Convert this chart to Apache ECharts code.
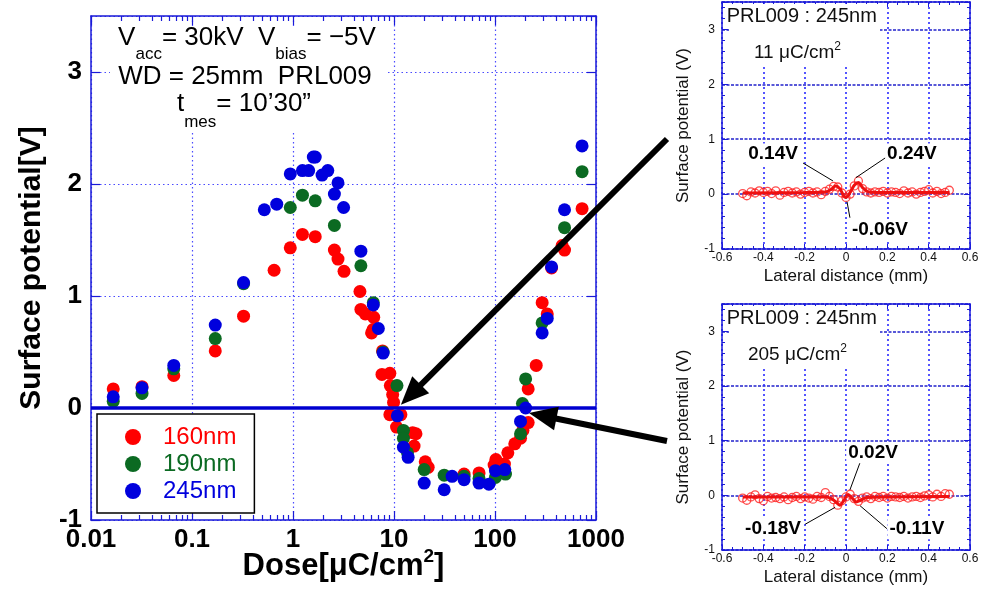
<!DOCTYPE html>
<html><head><meta charset="utf-8">
<script src="https://cdn.jsdelivr.net/npm/echarts@6/dist/echarts.min.js"></script>
<style>html,body{margin:0;padding:0;background:#fff}#c{width:982px;height:590px}</style>
</head><body><div id="c"></div>
<script>
// ---------- main chart data (Dose [uC/cm2], Surface potential [V]) ----------
const dose160 = [0.0166,0.032,0.066,0.17,0.324,0.65,0.94,1.24,1.66,2.57,2.79,3.2,4.6,4.7,5.2,6.3,6.0,6.2,7.7,7.6,9.1,9.2,9.7,9.9,9.1,11.7,10.6,15.3,16.5,15.8,20.4,21.8,49.4,69.5,98,102,124,134,157,179,189,213,213,256,293,329,363,462,488,728];
const pot160  = [0.17,0.19,0.29,0.51,0.82,1.23,1.43,1.55,1.53,1.41,1.33,1.22,1.04,0.88,0.84,0.81,0.67,0.70,0.51,0.30,0.31,0.20,0.12,0.05,-0.06,-0.06,-0.17,-0.22,-0.23,-0.34,-0.48,-0.53,-0.59,-0.58,-0.51,-0.46,-0.50,-0.40,-0.32,-0.27,-0.20,-0.13,0.17,0.38,0.94,0.84,1.25,1.45,1.41,1.78];
const dose190 = [0.0166,0.032,0.066,0.17,0.324,0.94,1.24,1.66,2.57,4.7,6.24,7.8,10.7,12.4,12.4,13.6,19.9,31.4,49.4,69.5,101,127,179,187,201,293,488,728];
const pot190  = [0.06,0.13,0.35,0.62,1.11,1.79,1.90,1.85,1.63,1.27,0.94,0.50,0.20,-0.20,-0.27,-0.40,-0.55,-0.60,-0.61,-0.63,-0.62,-0.59,-0.23,0.04,0.26,0.76,1.61,2.11];
const dose245 = [0.0166,0.032,0.066,0.17,0.324,0.52,0.69,0.94,1.24,1.43,1.59,1.66,1.94,2.21,2.57,2.79,3.17,4.7,6.24,7.0,7.8,10.8,12.4,13.8,19.9,31.4,37.6,49.4,69.5,87,101,125,179,201,293,329,363,488,728];
const pot245  = [0.10,0.18,0.38,0.74,1.12,1.77,1.82,2.09,2.12,2.12,2.24,2.24,2.08,2.12,1.91,2.01,1.79,1.40,0.92,0.71,0.49,-0.07,-0.35,-0.44,-0.67,-0.73,-0.61,-0.64,-0.67,-0.68,-0.56,-0.55,-0.12,0.00,0.67,0.80,1.26,1.77,2.34];
const seriesNames = ['160nm','190nm','245nm'];

// ---------- inset data (Lateral distance [mm], Surface potential [V]) ----------
const lateral = [-0.50,-0.48,-0.46,-0.44,-0.42,-0.40,-0.38,-0.36,-0.34,-0.32,-0.30,-0.28,-0.26,-0.24,-0.22,-0.20,-0.18,-0.16,-0.14,-0.12,-0.10,-0.08,-0.06,-0.04,-0.02,0.00,0.02,0.04,0.06,0.08,0.10,0.12,0.14,0.16,0.18,0.20,0.22,0.24,0.26,0.28,0.30,0.32,0.34,0.36,0.38,0.40,0.42,0.44,0.46,0.48,0.50];
const pot11  = [0.01,-0.03,0.04,0.02,0.06,0.03,0.05,0.01,0.06,-0.02,0.03,0.05,0.02,0.04,0.00,0.03,0.05,0.02,0.04,-0.01,0.05,0.09,0.14,0.13,0.02,-0.06,0.00,0.15,0.24,0.10,0.04,0.02,0.04,0.03,0.05,0.02,0.04,0.03,0.01,0.06,0.02,0.04,0.00,0.03,0.05,0.08,0.02,0.05,0.01,0.03,0.07];
const pot205 = [-0.05,-0.09,-0.03,0.01,-0.06,-0.10,-0.02,-0.05,-0.04,-0.06,-0.03,-0.08,-0.04,-0.02,-0.06,-0.03,-0.05,-0.07,-0.02,-0.04,0.05,-0.02,-0.08,-0.18,-0.10,-0.03,0.02,-0.06,-0.11,-0.05,-0.03,-0.06,-0.02,-0.04,-0.02,-0.05,-0.02,-0.03,-0.04,-0.02,-0.05,-0.03,-0.02,-0.04,-0.01,0.01,-0.03,0.02,-0.02,0.03,0.02];
const fitX11  = [-0.50,-0.20,-0.10,-0.07,-0.05,-0.03,-0.01,0.00,0.02,0.04,0.06,0.08,0.11,0.20,0.50];
const fitY11  = [0.02,0.03,0.04,0.09,0.15,0.10,-0.04,-0.06,0.03,0.16,0.21,0.12,0.04,0.03,0.03];
const fitX205 = [-0.50,-0.20,-0.10,-0.07,-0.05,-0.03,-0.01,0.01,0.03,0.05,0.07,0.10,0.20,0.50];
const fitY205 = [-0.03,-0.03,-0.03,-0.06,-0.12,-0.18,-0.09,0.01,-0.05,-0.12,-0.09,-0.04,-0.03,-0.02];

const mainLines = ['= 30kV  V', '= \u22125V', 'WD = 25mm  PRL009', '= 10\u201930\u201D'];
const insetTitle = 'PRL009 : 245nm';
const insetDoses = ['11 \u03BCC/cm', '205 \u03BCC/cm'];
const notes11 = [['0.14V', -0.353, 0.73, -0.208, 0.567, -0.063, 0.24], ['0.24V', 0.319, 0.73, 0.198, 0.68, 0.048, 0.30], ['-0.06V', 0.164, -0.65, 0.019, -0.43, 0.005, -0.14]];
const notes205 = [['0.02V', 0.131, 0.78, 0.068, 0.60, 0.019, 0.10], ['-0.18V', -0.353, -0.61, -0.198, -0.53, -0.053, -0.22], ['-0.11V', 0.343, -0.61, 0.198, -0.61, 0.068, -0.19]];

const FONT = '"Liberation Sans", Arial, Helvetica, sans-serif';
const AXC = '#1a1ad8';
const COLORS = ['#ff0000', '#0b6a22', '#0000dd'];
const zip = (a, b) => a.map((v, i) => [v, b[i]]);

const chart = echarts.init(document.getElementById('c'), null, {renderer: 'canvas'});

const mainSplit = {show: true, lineStyle: {color: '#4a4aff', type: [1.5, 3], width: 1.2}};
function mainXAxis(pos, show) {
  return {
    type: 'log', logBase: 10, gridIndex: 0, min: 0.01, max: 1000, position: pos,
    axisLine: {onZero: false, lineStyle: {color: AXC, width: 1.5}},
    axisTick: {inside: true, length: 9, lineStyle: {color: AXC, width: 1.2}},
    minorTick: {show: true, splitNumber: 9, length: 5, lineStyle: {color: AXC, width: 1.2}},
    axisLabel: {show: show, fontSize: 26, fontWeight: 'bold', color: '#000', fontFamily: FONT, margin: 7, showMinLabel: true, showMaxLabel: true,
      formatter: v => String(v)},
    splitLine: show ? mainSplit : {show: false}
  };
}
function mainYAxis(pos, show) {
  return {
    type: 'value', gridIndex: 0, min: -1, max: 3.5, interval: 1, position: pos,
    axisLine: {onZero: false, lineStyle: {color: AXC, width: 1.5}},
    axisTick: {inside: true, length: 9, lineStyle: {color: AXC, width: 1.2}},
    axisLabel: {show: show, fontSize: 26, fontWeight: 'bold', color: '#000', fontFamily: FONT, margin: 9, showMaxLabel: false},
    splitLine: show ? mainSplit : {show: false}
  };
}
const insetV = {show: true, lineStyle: {color: '#2b2bff', type: [2, 3], width: 1.6}};
const insetH = {show: true, lineStyle: {color: '#2222cc', type: [3, 1.5], width: 1.6}};
function insetX(g, pos, show) {
  return {
    type: 'value', gridIndex: g, min: -0.6, max: 0.6, interval: 0.2, position: pos,
    axisLine: {onZero: false, lineStyle: {color: AXC, width: 1.5}},
    axisTick: {inside: true, length: 5, lineStyle: {color: AXC}},
    minorTick: {show: true, splitNumber: 4, length: 3, lineStyle: {color: AXC}},
    axisLabel: {show: show, fontSize: 12, color: '#111', fontFamily: FONT, margin: 3, showMinLabel: true, showMaxLabel: true,
      formatter: v => (Math.abs(v) < 1e-9 ? '0' : v.toFixed(1))},
    splitLine: show ? insetV : {show: false},
    name: show ? 'Lateral distance (mm)' : '', nameLocation: 'middle', nameGap: 19, nameMoveOverlap: false,
    nameTextStyle: {fontSize: 17, color: '#111', fontFamily: FONT}
  };
}
function insetY(g, pos, show) {
  return {
    type: 'value', gridIndex: g, min: -1, max: 3.5, interval: 1, position: pos,
    axisLine: {onZero: false, lineStyle: {color: AXC, width: 1.5}},
    axisTick: {inside: true, length: 6, lineStyle: {color: AXC}},
    minorTick: {show: true, splitNumber: 5, length: 3, lineStyle: {color: AXC}},
    axisLabel: {show: show, fontSize: 12, color: '#111', fontFamily: FONT, margin: 7, showMaxLabel: false},
    splitLine: show ? insetH : {show: false},
    name: show ? 'Surface potential (V)' : '', nameLocation: 'middle', nameGap: 30, nameMoveOverlap: false,
    nameTextStyle: {fontSize: 17, color: '#111', fontFamily: FONT}
  };
}

const mainSeries = [[dose160, pot160], [dose190, pot190], [dose245, pot245]].map((d, i) => ({
  name: seriesNames[i], type: 'scatter', xAxisIndex: 0, yAxisIndex: 0,
  symbol: 'circle', symbolSize: 13, itemStyle: {color: COLORS[i], opacity: 1},
  data: zip(d[0], d[1]), z: 3
}));
mainSeries[2].markLine = {
  silent: true, symbol: 'none', label: {show: false},
  lineStyle: {color: '#0000d0', type: 'solid', width: 3.5},
  data: [{yAxis: 0}]
};

function insetSeries(ax, pts, fx, fy) {
  return [
    {type: 'scatter', xAxisIndex: ax, yAxisIndex: ax, symbol: 'circle', symbolSize: 8,
     itemStyle: {color: 'rgba(255,255,255,0)', borderColor: '#ff2020', borderWidth: 1.3},
     data: zip(lateral, pts), z: 3},
    {type: 'line', xAxisIndex: ax, yAxisIndex: ax, smooth: 0.35, showSymbol: false,
     lineStyle: {color: '#ee1010', width: 3}, data: zip(fx, fy), z: 4}
  ];
}

const gridBase = {containLabel: false, outerBoundsMode: 'none'};
const option = {
  animation: false,
  backgroundColor: '#fff',
  textStyle: {fontFamily: FONT},
  grid: [
    Object.assign({left: 91, top: 16, width: 505, height: 504}, gridBase),
    Object.assign({left: 722, top: 2, width: 248, height: 247}, gridBase),
    Object.assign({left: 722, top: 304, width: 248, height: 246}, gridBase)
  ],
  legend: {
    orient: 'vertical', left: 97, top: 414,
    padding: [11, 18, 10, 28], itemGap: 3, itemWidth: 16, itemHeight: 16,
    icon: 'circle', borderColor: '#000', borderWidth: 1.5, backgroundColor: '#fff',
    textStyle: {fontSize: 24, fontFamily: FONT, padding: [0, 0, 0, 17]},
    data: seriesNames.map((n, i) => ({name: n, textStyle: {color: COLORS[i]}})),
    selectedMode: false, z: 6
  },
  xAxis: [
    Object.assign(mainXAxis('bottom', true), {
      name: 'Dose[\u03BCC/cm{sup|2}]', nameLocation: 'middle', nameGap: 27, nameMoveOverlap: false,
      nameTextStyle: {fontSize: 31, fontWeight: 'bold', color: '#000', fontFamily: FONT,
        rich: {sup: {fontSize: 19, fontWeight: 'bold', color: '#000', fontFamily: FONT, padding: [0, 0, 20, 0]}}}
    }),
    mainXAxis('top', false),
    insetX(1, 'bottom', true), insetX(1, 'top', false),
    insetX(2, 'bottom', true), insetX(2, 'top', false)
  ],
  yAxis: [
    Object.assign(mainYAxis('left', true), {
      name: 'Surface potential[V]', nameLocation: 'middle', nameGap: 44, nameMoveOverlap: false,
      nameTextStyle: {fontSize: 30, fontWeight: 'bold', color: '#000', fontFamily: FONT}
    }),
    mainYAxis('right', false),
    insetY(1, 'left', true), insetY(1, 'right', false),
    insetY(2, 'left', true), insetY(2, 'right', false)
  ],
  series: mainSeries.concat(insetSeries(2, pot11, fitX11, fitY11), insetSeries(4, pot205, fitX205, fitY205))
};
chart.setOption(option);

// ---------- annotations ----------
const g = [];
// white masks behind text blocks (hide grid lines as in the original)
g.push({type: 'rect', shape: {x: 110, y: 26, width: 278, height: 106}, style: {fill: '#fff'}, z: 1});
g.push({type: 'rect', shape: {x: 729, y: 4, width: 151, height: 61}, style: {fill: '#fff'}, z: 1});
g.push({type: 'rect', shape: {x: 729, y: 306, width: 151, height: 61}, style: {fill: '#fff'}, z: 1});

const mF = {fontSize: 26, fontFamily: FONT, fill: '#000'};
function txt(x, y, text, rich, extra) {
  return Object.assign({type: 'text', x: x, y: y, z: 100,
    style: {text: text, rich: rich, align: 'center', verticalAlign: 'middle', textAlign: 'center', textVerticalAlign: 'middle'}}, extra || {});
}
g.push(txt(247, 38, '{m|V}{s|acc}{m|' + mainLines[0] + '}{s|bias}{m|' + mainLines[1] + '}',
  {m: mF, s: {fontSize: 17, fontFamily: FONT, fill: '#000', padding: [32, 0, 0, 0]}}));
g.push(txt(245, 77, '{m|' + mainLines[2] + '}', {m: mF}));
g.push(txt(244, 104, '{m|t}{s|mes}{m|' + mainLines[3] + '}',
  {m: mF, s: {fontSize: 17, fontFamily: FONT, fill: '#000', padding: [36, 0, 0, 0]}}));

function insetNotes(seriesIdx, doseText, notes) {
  const p1 = chart.convertToPixel({seriesIndex: seriesIdx}, [-0.214, 3.23]);
  g.push(txt(p1[0], p1[1], '{a|' + insetTitle + '}', {a: {fontSize: 20, fontFamily: FONT, fill: '#111'}}));
  const p2 = chart.convertToPixel({seriesIndex: seriesIdx}, [-0.235, 2.57]);
  g.push(txt(p2[0], p2[1], '{a|' + doseText + '}{b|2}',
    {a: {fontSize: 19, fontFamily: FONT, fill: '#111'}, b: {fontSize: 12, fontFamily: FONT, fill: '#111', padding: [0, 0, 12, 0]}}));
  notes.forEach(n => {
    const a = chart.convertToPixel({seriesIndex: seriesIdx}, [n[3], n[4]]);
    const b = chart.convertToPixel({seriesIndex: seriesIdx}, [n[5], n[6]]);
    g.push({type: 'line', z: 90, shape: {x1: a[0], y1: a[1], x2: b[0], y2: b[1]}, style: {stroke: '#000', lineWidth: 1}});
    const c = chart.convertToPixel({seriesIndex: seriesIdx}, [n[1], n[2]]);
    g.push(txt(c[0], c[1], '{a|' + n[0] + '}',
      {a: {fontSize: 19, fontWeight: 'bold', fontFamily: FONT, fill: '#000', backgroundColor: '#fff', padding: [1, 2, 1, 2]}}));
  });
}
insetNotes(3, insetDoses[0], notes11);
insetNotes(5, insetDoses[1], notes205);

// arrows from insets to the main chart
function arrow(sx, sy, tip) {
  const t = chart.convertToPixel({seriesIndex: 0}, tip);
  const dx = t[0] - sx, dy = t[1] - sy, len = Math.hypot(dx, dy);
  const ux = dx / len, uy = dy / len, L = 28, W = 12;
  const bx = t[0] - ux * L, by = t[1] - uy * L;
  g.push({type: 'line', z: 95, shape: {x1: sx, y1: sy, x2: bx + ux * 2, y2: by + uy * 2}, style: {stroke: '#000', lineWidth: 6}});
  g.push({type: 'polygon', z: 95, shape: {points: [[t[0], t[1]], [bx - uy * W, by + ux * W], [bx + uy * W, by - ux * W]]}, style: {fill: '#000'}});
}
arrow(667, 139, [11.7, 0.03]);
arrow(667, 441, [217, -0.045]);

chart.setOption({graphic: g});
</script>
</body></html>
